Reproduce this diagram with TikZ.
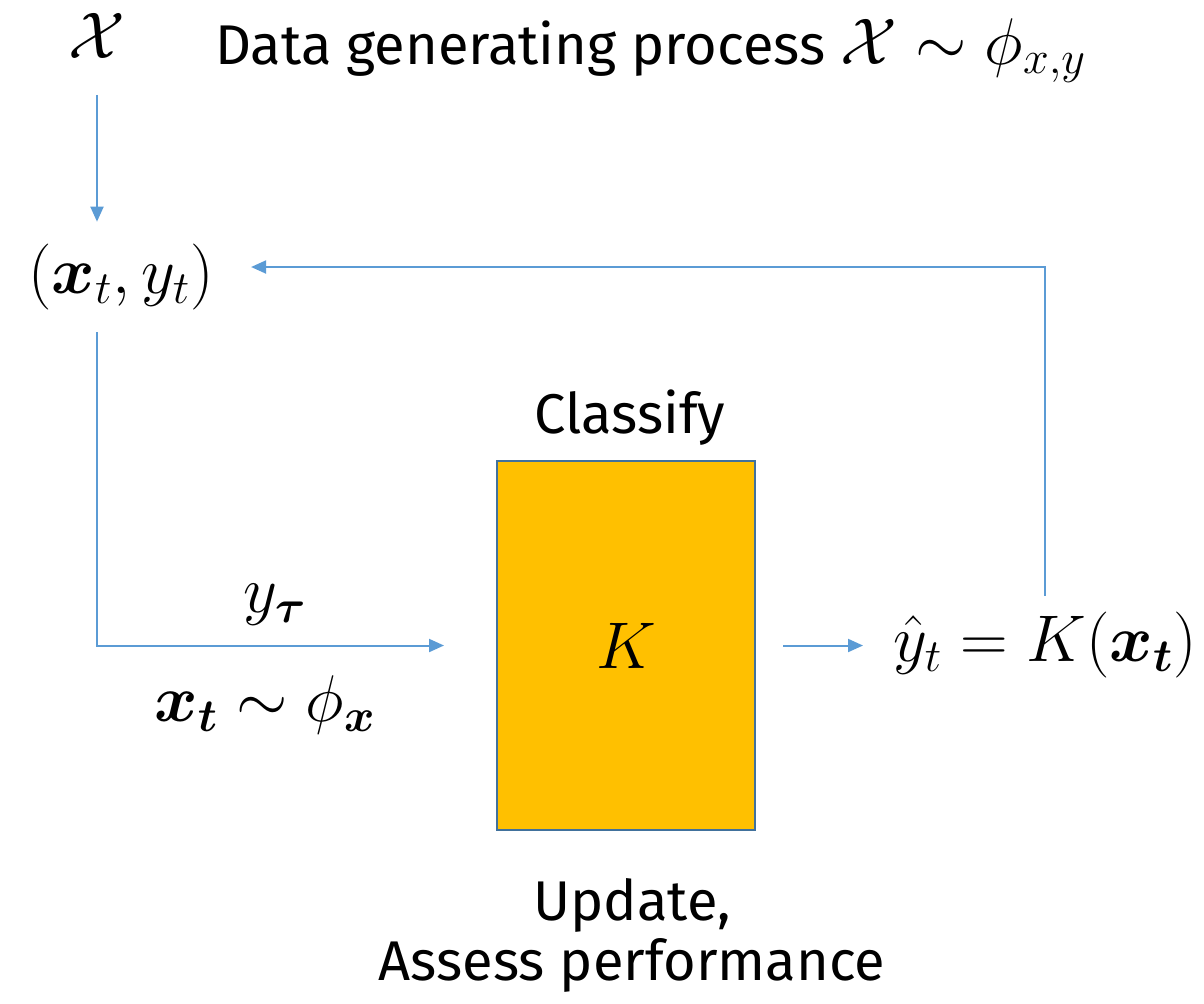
\documentclass[tikz,border=0pt]{standalone}
\usepackage{fix-cm}
\usepackage{amsmath,bm}
\usepackage{fontspec}
\setmainfont{Fira Sans}
\usetikzlibrary{arrows.meta}
\definecolor{lineblue}{HTML}{5B9BD5}
\definecolor{boxgold}{HTML}{FFC000}
\definecolor{boxedge}{HTML}{41719C}
\newcommand{\bigmath}{\fontsize{33}{36}\selectfont}
\tikzset{
  flow/.style={draw=lineblue, line width=1pt, -{Triangle[length=7.5pt,width=6.5pt]}},
  lbl/.style={inner sep=0pt, font=\fontsize{28}{30}\selectfont},
  mlbl/.style={inner sep=0pt, font=\bigmath},
}
\begin{document}
\begin{tikzpicture}[x=0.5pt, y=-0.5pt]
\useasboundingbox (0,0) rectangle (1204,1003);
\node [mlbl] (src) at (97,36) {$\mathcal{X}$};
\node [lbl, anchor=base west] (dgp) at (215,64) {Data generating process {\bigmath$\mathcal{X}\sim\phi_{x,y}$}};
\node [mlbl] (pair) at (121,277) {$(\bm{x}_t, y_t)$};
\node [mlbl, draw=boxedge, line width=1pt, fill=boxgold, minimum width=129pt, minimum height=184.5pt] (K) at (626,645.5) {$K$};
\node [lbl] (cls) at (630,418) {Classify};
\node [lbl, align=center] (upd) at (632,935) {Update,\\Assess performance};
\node [mlbl] (ytau) at (275,605) {$y_{\bm{\tau}}$};
\node [mlbl] (xphi) at (265,705) {$\bm{x}_{\bm{t}}\sim\phi_{\bm{x}}$};
\node [mlbl] (yhat) at (1045,645) {$\hat{y}_t = K(\bm{x}_{\bm{t}})$};
% arrows
\draw [flow, shorten <=18pt, shorten >=11pt] (src.south) -- (src.south |- pair.north);
\draw [flow, shorten <=11pt, shorten >=26pt] (src.south |- pair.south) |- (K.west);
\draw [flow, shorten <=13.5pt, shorten >=15pt] (K.east) -- (K.east -| yhat.west);
\draw [flow, shorten <=8pt, shorten >=18.5pt] (yhat.north) |- ([yshift=5pt]pair.east);
\end{tikzpicture}
\end{document}
